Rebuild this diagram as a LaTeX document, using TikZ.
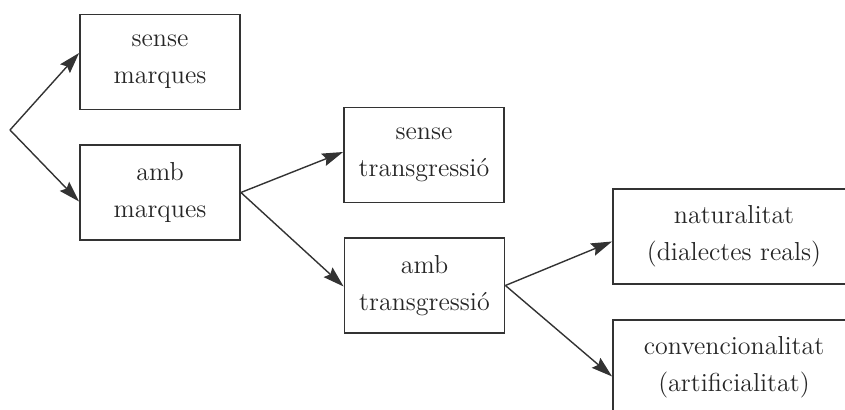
\documentclass[tikz,border=0pt]{standalone}
\usepackage{tikz}
\usetikzlibrary{positioning,arrows.meta,calc}

\begin{document}
\begin{tikzpicture}[
    x=0.5pt, y=-0.5pt,
    font=\fontsize{13}{18.5}\selectfont,
    b/.style={draw=black!80, line width=0.9pt, align=center, minimum height=47.5pt, minimum width=80pt, inner sep=2pt, text=black!85},
    bw/.style={b, minimum width=121pt},
    fl/.style={-{Stealth[length=10.5pt, width=6.5pt, inset=1.5pt]}, line width=0.7pt, draw=black!80},
]
    \useasboundingbox (0,0) rectangle (845,410);
    \clip (0,0) rectangle (845,410);
    \node[b] (sm) at (160,62) {sense\\marques};
    \node[b] (am) at (160,192.5) {amb\\marques};
    \node[b] (st) at (424,155) {sense\\transgressi\'o};
    \node[b] (at) at (424.5,285.5) {amb\\transgressi\'o};
    \node[bw] (nat) at (734,236.5) {naturalitat\\(dialectes reals)};
    \node[bw] (conv) at (734,367.5) {convencionalitat\\(artificialitat)};
    \coordinate (arrel) at (10,130);
    \draw[fl] (arrel) -- ([yshift=4.5pt]sm.west);
    \draw[fl] (arrel) -- ([yshift=-4.5pt]am.west);
    \draw[fl] (am.east) -- ([yshift=1.5pt]st.west);
    \draw[fl] (am.east) -- ([yshift=-0.5pt]at.west);
    \draw[fl] (at.east) -- ([yshift=-2.5pt]nat.west);
    \draw[fl] (at.east) -- ([yshift=-4.5pt]conv.west);
\end{tikzpicture}
\end{document}
